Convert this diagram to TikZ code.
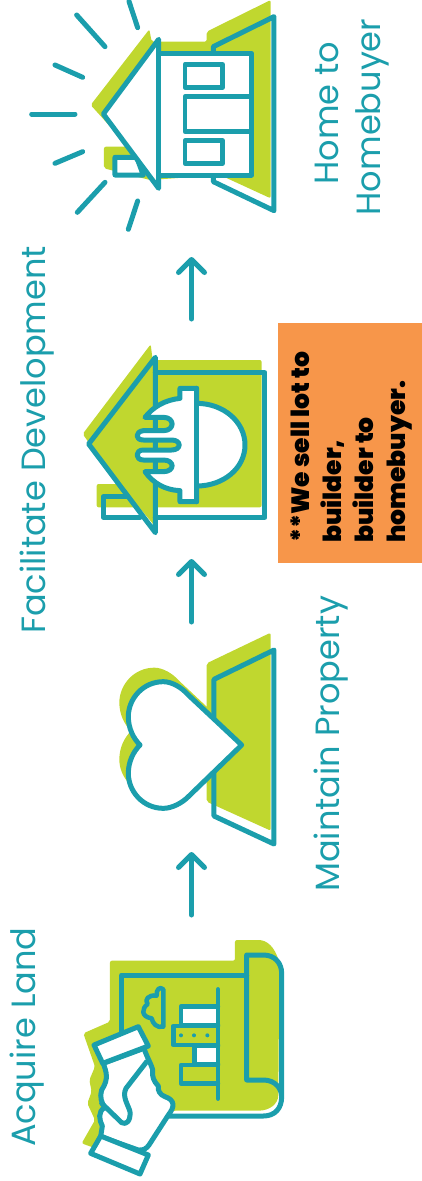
\documentclass[tikz,border=0pt]{standalone}
\usepackage{fontspec}
\usepackage{xcolor}
\usetikzlibrary{arrows.meta,positioning}
\newfontfamily\labelfont{Poppins}
\newfontfamily\notefont{Poppins}[UprightFont=* Black]
\definecolor{IconTeal}{HTML}{1B9EAC}
\definecolor{IconLime}{HTML}{C0D72F}
\definecolor{NoteOrange}{HTML}{F7964A}
\tikzset{
  iconline/.style={draw=IconTeal, line width=5pt, line join=round, line cap=round},
  thinline/.style={iconline, line width=4.5pt},
  limeshape/.style={fill=IconLime, rounded corners=2pt},
  flowarrow/.style={IconTeal, line width=5pt, line cap=round, -{Straight Barb[length=13pt,width=26pt,round]}},
  steplabel/.style={IconTeal, rotate=90, anchor=base west, inner sep=0pt, font=\labelfont\fontsize{33.6}{34}\selectfont}
}
\begin{document}
\begin{tikzpicture}[x=1pt, y=-1pt]
    \useasboundingbox (0,0) rectangle (422,1181);

    % Step labels
    \node[steplabel] (acquire) at (35,1147) {Acquire Land};
    \node[steplabel] (maintain) at (339,892) {Maintain Property};
    \node[steplabel] (facilitate) at (45,634) {Facilitate Development};
    \node[steplabel, anchor=base, align=center] (hometo) at (338,113) {Home to};
    \node[steplabel, anchor=base, align=center] (homebuyer) at (380,117) {Homebuyer};

    % Flow arrows
    \coordinate (arrowAstart) at (191.5,915);
    \coordinate (arrowAend) at (191.5,852);
    \coordinate (arrowBstart) at (191.5,622);
    \coordinate (arrowBend) at (191.5,559);
    \coordinate (arrowCstart) at (191.5,319);
    \coordinate (arrowCend) at (191.5,257);
    \draw[flowarrow] (arrowAstart) -- (arrowAend);
    \draw[flowarrow] (arrowBstart) -- (arrowBend);
    \draw[flowarrow] (arrowCstart) -- (arrowCend);

    % Orange note
    \node[fill=NoteOrange, minimum width=144pt, minimum height=240pt, anchor=north west, inner sep=0pt] (notebox) at (278,323) {};
    \node[rotate=90, anchor=north west, align=left, inner sep=0pt, font=\notefont\fontsize{25}{32}\selectfont] (notetext) at (291,543) {**We sell lot to\\builder,\\builder to\\homebuyer.};

    % Plan in hand
    \begin{scope}[shift={(0,900)}, scale=1/3]
        \fill[limeshape] (330,182) -- (330,365) -- (250,400) -- (285,500) -- (268,540) -- (275,575) -- (262,610) -- (285,660) -- (245,730) -- (300,750) -- (520,632) -- (770,632) .. controls (810,632) and (835,610) .. (835,580) -- (838,190) .. controls (825,140) and (800,120) .. (770,120) -- (705,120) -- (705,182) -- cycle;
        % Sheet
        \draw[iconline] (365,395) -- (365,225) -- (740,225);
        \draw[iconline] (500,648) -- (790,648) .. controls (825,648) and (845,625) .. (845,590) -- (845,220) .. controls (845,190) and (825,165) .. (790,165) -- (740,165) -- (740,540) -- (790,540) .. controls (825,540) and (845,565) .. (845,590);
        % Cloud
        \draw[thinline] (490,268) .. controls (480,258) and (468,268) .. (470,287) .. controls (445,283) and (432,300) .. (443,312) .. controls (425,325) and (422,350) .. (455,355) .. controls (458,370) and (470,385) .. (490,380) -- cycle;
        % Building
        \draw[thinline, fill=white] (654,320) -- (543,320) -- (543,375) -- (654,375);
        \draw[thinline] (654,378) -- (520,378) -- (520,435) -- (654,435);
        \draw[thinline, fill=white] (654,438) -- (583,438) -- (583,492) -- (654,492);
        \draw[thinline] (654,495) -- (543,495) -- (543,550) -- (654,550);
        \draw[thinline] (654,268) -- (654,596);
        \fill[IconTeal] (543,406) circle (6) (582,406) circle (6) (622,406) circle (6);
        % Hand
        \draw[iconline, fill=white] (310,490) .. controls (318,515) and (328,535) .. (305,570) .. controls (298,590) and (305,610) .. (315,622) .. controls (292,635) and (298,660) .. (307,678) -- (302,710) -- (415,750) .. controls (430,752) and (440,745) .. (447,735) -- (505,645) .. controls (525,620) and (525,600) .. (495,590) .. controls (480,585) and (472,570) .. (475,558) .. controls (462,545) and (455,530) .. (458,510) .. controls (455,495) and (440,470) .. (432,445) -- cycle;
        \draw[iconline] (440,485) -- (378,565) .. controls (365,590) and (385,615) .. (390,635) .. controls (392,665) and (378,675) .. (365,668) -- (305,610);
        \draw[iconline, fill=white] (282,435) -- (415,380) -- (445,438) -- (308,490) -- cycle;
        \draw[iconline, fill=white] (272,760) -- (302,708) -- (445,765) -- (420,822) -- cycle;
    \end{scope}

    % Heart and lot
    \begin{scope}[shift={(0,600)}, scale=1/3]
        \fill[limeshape] (620,190) -- (812,98) -- (812,692) -- (620,605) -- cycle;
        \fill[IconLime, shift={(-27,-42)}] (725,435) -- (565,285) .. controls (545,262) and (515,245) .. (490,245) .. controls (430,245) and (385,295) .. (385,350) .. controls (385,385) and (400,415) .. (420,435) .. controls (400,455) and (385,485) .. (385,520) .. controls (385,575) and (430,625) .. (490,625) .. controls (515,625) and (545,610) .. (565,590) -- cycle;
        \draw[iconline] (642,238) -- (822,150) -- (822,732) -- (642,648) -- cycle;
        \draw[iconline, fill=white] (725,435) -- (565,285) .. controls (545,262) and (515,245) .. (490,245) .. controls (430,245) and (385,295) .. (385,350) .. controls (385,385) and (400,415) .. (420,435) .. controls (400,455) and (385,485) .. (385,520) .. controls (385,575) and (430,625) .. (490,625) .. controls (515,625) and (545,610) .. (565,590) -- cycle;
    \end{scope}

    % House with hard hat
    \begin{scope}[shift={(0,300)}, scale=1/3]
        \fill[limeshape] (452,133) -- (458,180) -- (785,180) -- (785,622) -- (290,622) -- (290,552) -- (355,552) -- (248,402) -- cycle;
        \fill[IconLime] (340,530) -- (466,622) -- (466,680) -- cycle;
        \draw[iconline] (380,590) -- (310,590) -- (310,652) -- (420,652);
        \draw[iconline] (466,218) -- (795,218) -- (795,652) -- (466,652);
        \draw[iconline] (466,172) -- (266,432) -- (466,698) -- cycle;
        % Hard hat and fingers
        \draw[iconline, fill=white] (540,295) .. controls (495,300) and (460,320) .. (435,352) -- (490,352) .. controls (525,352) and (525,392) .. (490,392) -- (430,392) .. controls (405,395) and (405,420) .. (430,420) -- (515,420) .. controls (545,420) and (545,450) .. (515,450) -- (430,450) .. controls (405,450) and (405,480) .. (430,480) -- (490,480) .. controls (525,480) and (525,515) .. (490,515) -- (435,515) .. controls (460,550) and (495,570) .. (540,572) -- (540,605) -- (590,605) -- (590,558) .. controls (670,558) and (735,505) .. (735,435) .. controls (735,365) and (670,310) .. (590,310) -- (590,265) -- (540,265) -- cycle;
        \draw[iconline] (590,265) -- (590,605);
    \end{scope}

    % Finished house
    \begin{scope}[shift={(0,0)}, scale=1/3]
        \fill[limeshape] (448,88) -- (455,125) -- (620,125) -- (620,95) -- (812,0) -- (812,595) -- (660,525) -- (450,540) -- (312,505) -- (312,440) -- (385,440) -- (272,315) -- cycle;
        \draw[iconline] (640,155) -- (640,140) -- (822,50) -- (822,632) -- (640,545) -- (640,530);
        \draw[iconline, fill=white] (410,472) -- (345,472) -- (345,525) -- (430,525) -- cycle;
        \draw[iconline, fill=white] (476,118) -- (310,342) -- (476,565) -- cycle;
        \draw[iconline, fill=white] (476,160) -- (755,160) -- (755,525) -- (476,525) -- cycle;
        \draw[thinline] (555,193) rectangle (668,262);
        \draw[thinline] (755,290) -- (555,290) -- (555,395) -- (755,395);
        \draw[thinline] (555,422) rectangle (668,490);
        % Rays
        \draw[iconline] (95,342) -- (225,342);
        \draw[iconline] (165,195) -- (248,232);
        \draw[iconline] (230,45) -- (315,140);
        \draw[iconline] (387,4) -- (413,83);
        \draw[iconline] (165,490) -- (248,455);
        \draw[iconline] (232,637) -- (315,547);
        \draw[iconline] (385,688) -- (413,603);
    \end{scope}
\end{tikzpicture}
\end{document}
